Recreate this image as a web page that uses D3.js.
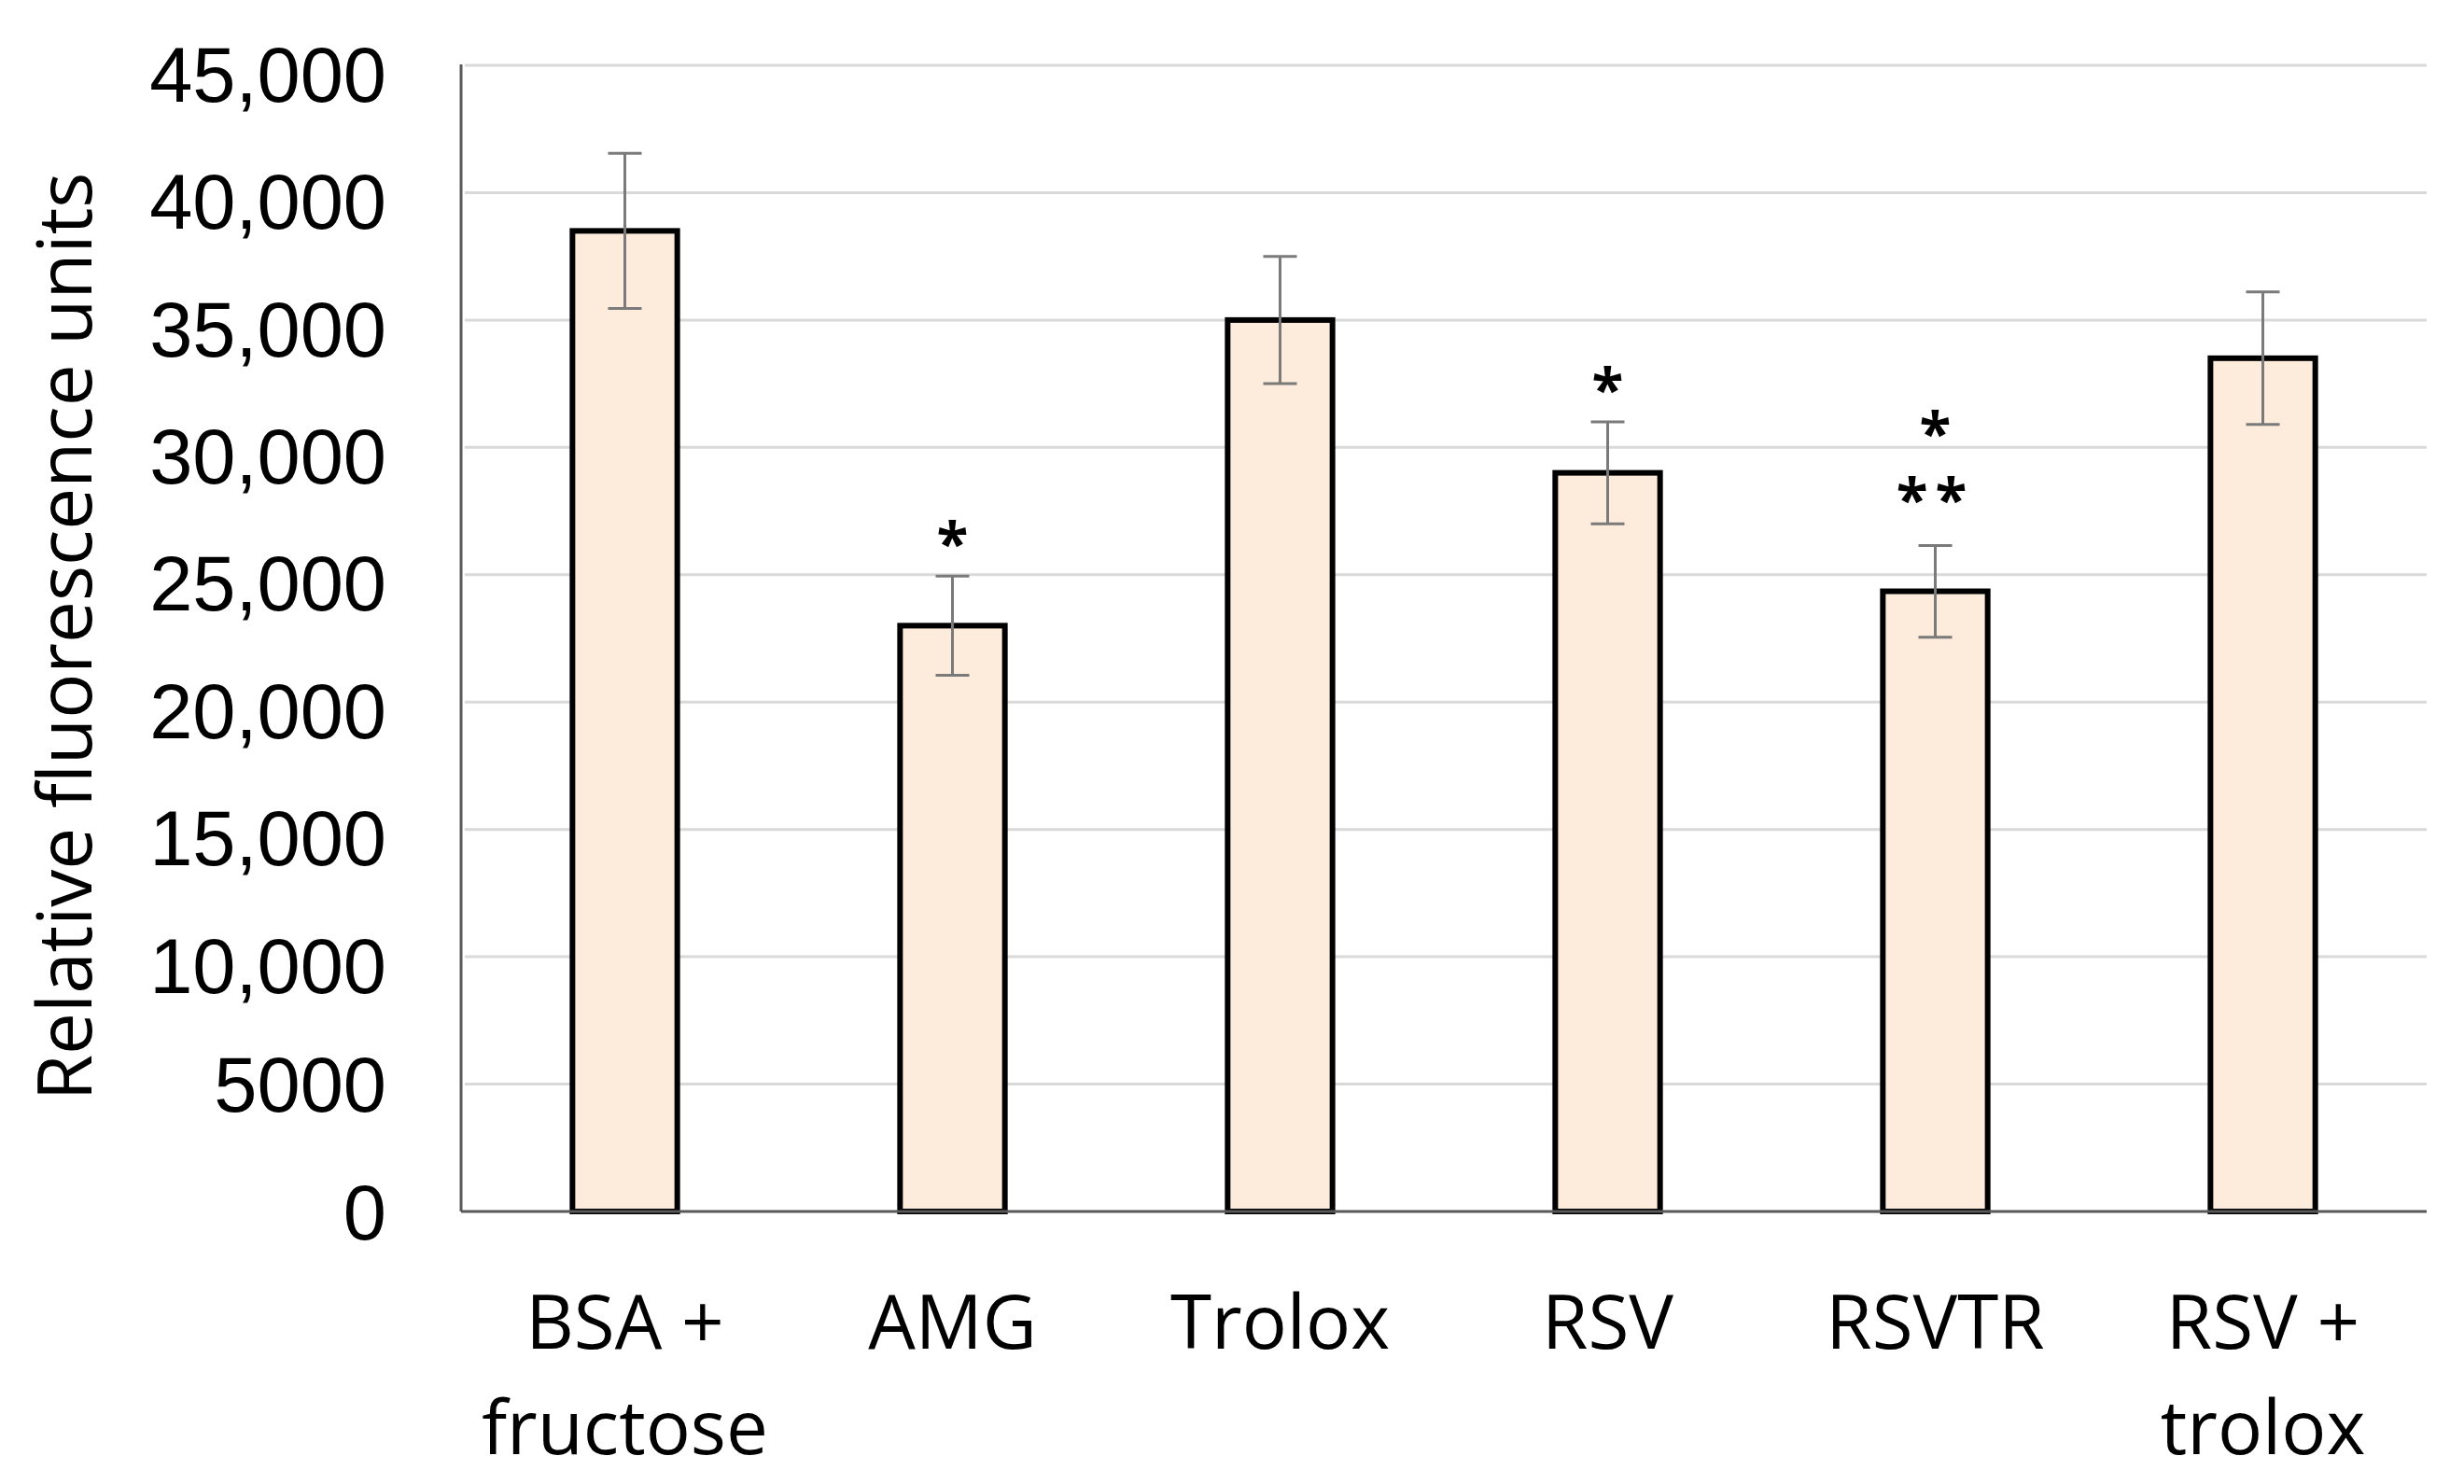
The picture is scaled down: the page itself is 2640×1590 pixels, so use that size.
<!DOCTYPE html>
<html lang="en">
<head>
<meta charset="UTF-8">
<script src="https://cdn.jsdelivr.net/npm/d3@7"></script>
<style>
  body { margin: 0; background: #fff; }
  svg { display: block; }
</style>
</head>
<body>
<script>
// data
var categories = ["BSA + fructose", "AMG", "Trolox", "RSV", "RSVTR", "RSV + trolox"];
var labelLines = [["BSA +", "fructose"], ["AMG"], ["Trolox"], ["RSV"], ["RSVTR"], ["RSV +", "trolox"]];
var means = [38500, 23000, 35000, 29000, 24350, 33500];
var errors = [3050, 1950, 2500, 2000, 1800, 2600];
var stars = [[], ["*"], [], ["*"], ["*", "**"], []];
var yTicks = [0, 5000, 10000, 15000, 20000, 25000, 30000, 35000, 40000, 45000];

var W = 2640, H = 1590;
var mLeft = 494, mRight = 2600, mTop = 70, mBottom = 1298;

var svg = d3.select("body").append("svg")
    .attr("width", W)
    .attr("height", H);

svg.append("rect").attr("width", W).attr("height", H).attr("fill", "#fff");

var x = d3.scaleBand()
    .domain(categories)
    .range([mLeft, mRight])
    .paddingInner(0.68)
    .paddingOuter(0.34);

var y = d3.scaleLinear()
    .domain([0, 45000])
    .range([mBottom, mTop]);

// gridlines
svg.append("g").selectAll("line")
    .data(yTicks.filter(function(d){ return d > 0; }))
    .enter().append("line")
    .attr("x1", mLeft + 4).attr("x2", mRight)
    .attr("y1", function(d){ return y(d); })
    .attr("y2", function(d){ return y(d); })
    .attr("stroke", "#d9d9d9")
    .attr("stroke-width", 3);

// y axis labels
var yAxis = d3.axisLeft(y)
    .tickValues(yTicks)
    .tickSize(0)
    .tickPadding(80)
    .tickFormat(function(d){ return d >= 10000 ? d3.format(",")(d) : String(d); });

var yg = svg.append("g")
    .attr("transform", "translate(" + mLeft + ",0)")
    .call(yAxis);
yg.select(".domain").remove();
yg.selectAll("text")
    .attr("font-family", "'Liberation Sans', Arial, sans-serif")
    .attr("font-size", 83)
    .attr("fill", "#000")
    .attr("dy", function(d){ return d >= 10000 ? "0.46em" : "0.35em"; });

// axis lines
svg.append("line")
    .attr("x1", mLeft).attr("x2", mLeft)
    .attr("y1", mTop - 1).attr("y2", mBottom)
    .attr("stroke", "#595959").attr("stroke-width", 3);

// bars
svg.append("g").selectAll("rect")
    .data(means)
    .enter().append("rect")
    .attr("x", function(d, i){ return x(categories[i]); })
    .attr("y", function(d){ return y(d); })
    .attr("width", x.bandwidth())
    .attr("height", function(d){ return y(0) - y(d); })
    .attr("fill", "#fdebdb")
    .attr("stroke", "#000")
    .attr("stroke-width", 6);

svg.append("line")
    .attr("x1", mLeft).attr("x2", mRight)
    .attr("y1", mBottom).attr("y2", mBottom)
    .attr("stroke", "#595959").attr("stroke-width", 3);

// error bars
var capW = 36;
var eg = svg.append("g").attr("stroke", "#7a7a7a").attr("stroke-width", 3);
means.forEach(function(m, i){
    var cx = x(categories[i]) + x.bandwidth() / 2;
    eg.append("line").attr("x1", cx).attr("x2", cx)
        .attr("y1", y(m + errors[i])).attr("y2", y(m - errors[i]));
    eg.append("line").attr("x1", cx - capW / 2).attr("x2", cx + capW / 2)
        .attr("y1", y(m + errors[i])).attr("y2", y(m + errors[i]));
    eg.append("line").attr("x1", cx - capW / 2).attr("x2", cx + capW / 2)
        .attr("y1", y(m - errors[i])).attr("y2", y(m - errors[i]));
});

// significance stars, one text per bar, rows stacked upward
stars.forEach(function(s, i){
    if (!s.length) return;
    var cx = x(categories[i]) + x.bandwidth() / 2;
    var base = y(means[i] + errors[i]) - 12 - (s.length - 1) * 14;
    var t = svg.append("text")
        .attr("text-anchor", "middle")
        .attr("font-family", "'Open Sans', sans-serif")
        .attr("font-weight", "bold")
        .attr("font-size", 62)
        .attr("fill", "#000");
    s.forEach(function(row, j){
        t.append("tspan")
            .attr("x", cx)
            .attr("y", base - (s.length - 1 - j) * 71)
            .attr("letter-spacing", row.length > 1 ? 8 : 0)
            .text(row);
    });
});

// x labels
var xg = svg.append("g");
labelLines.forEach(function(lines, i){
    var cx = x(categories[i]) + x.bandwidth() / 2;
    var t = xg.append("text")
        .attr("text-anchor", "middle")
        .attr("font-family", "'Open Sans', sans-serif")
        .attr("font-size", 80)
        .attr("fill", "#000");
    lines.forEach(function(l, j){
        t.append("tspan").attr("x", cx).attr("y", 1445 + j * 113).text(l);
    });
});

// y title
svg.append("text")
    .attr("transform", "translate(98,682) rotate(-90)")
    .attr("text-anchor", "middle")
    .attr("font-family", "'Open Sans', sans-serif")
    .attr("font-size", 80)
    .attr("fill", "#000")
    .text("Relative fluorescence units");
</script>
</body>
</html>
